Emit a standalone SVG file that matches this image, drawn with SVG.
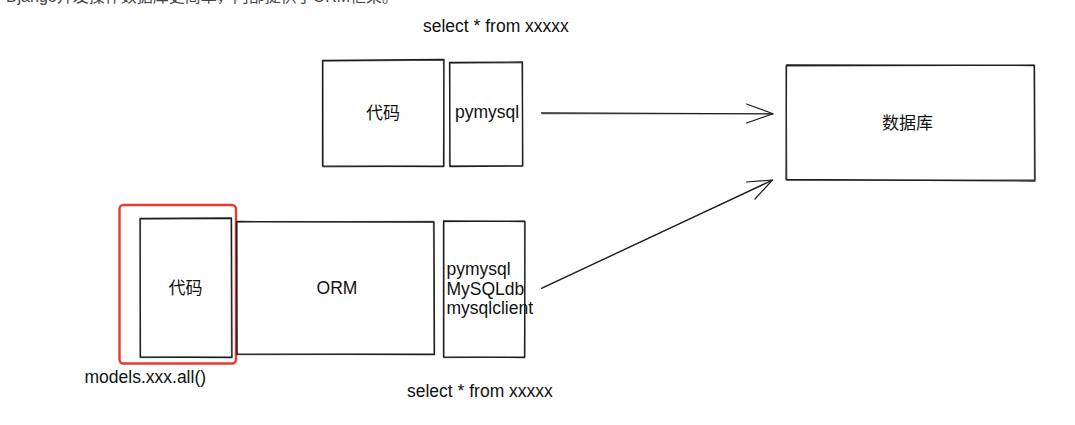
<svg xmlns="http://www.w3.org/2000/svg" width="1075" height="425" viewBox="0 0 1075 425">
  <style>
    .box { fill: none; stroke: #1e1e1e; stroke-width: 1.3; stroke-linejoin: round; stroke-linecap: round; }
    .edge { fill: none; stroke: #1e1e1e; stroke-width: 1.2; stroke-linecap: round; stroke-linejoin: round; }
    .lbl { font-family: "Liberation Sans", Arial, sans-serif; font-size: 17.5px; fill: #111; }
    .cjk { font-family: "Liberation Sans", "Noto Sans CJK SC", sans-serif; font-size: 17px; fill: #111; }
    .hdr { font-family: "Liberation Sans", "Noto Sans CJK SC", sans-serif; font-size: 16px; fill: #444; }
  </style>
  <rect x="0" y="0" width="1075" height="425" fill="#ffffff"/>

  <text class="hdr" x="6" y="2">Django开发操作数据库更简单，内部提供了ORM框架。</text>

  <text class="lbl" x="423" y="32">select * from xxxxx</text>

  <g id="code-top">
    <path class="box" d="M322.5 60.5 L444 59.5 L443.5 166.5 L322.5 166 Z"/>
    <path class="box" d="M323 61 L443.5 60.2 L444.2 166 L323.2 166.8 Z" stroke-opacity="0.6"/>
    <text class="cjk" x="383" y="118.5" text-anchor="middle">代码</text>
  </g>

  <g id="pymysql-top">
    <path class="box" d="M449.5 62.5 L522.5 62 L522.5 166 L450 166.5 Z"/>
    <path class="box" d="M450 63 L522 62.8 L523 165.5 L449.5 165.8 Z" stroke-opacity="0.6"/>
    <text class="lbl" x="455" y="118">pymysql</text>
  </g>

  <g id="database">
    <path class="box" d="M786.5 65 L1034.5 65.5 L1035 181 L786 179.5 Z"/>
    <path class="box" d="M786 66 L1034 65 L1034.5 180 L786.8 180.3 Z" stroke-opacity="0.6"/>
    <text class="cjk" x="907.5" y="128.5" text-anchor="middle">数据库</text>
  </g>

  <g id="code-bottom">
    <rect x="119.5" y="205" width="116.5" height="158.5" rx="4" ry="4" fill="none" stroke="#e63b2e" stroke-width="2.4"/>
    <path class="box" d="M140 218.5 L231.5 218 L232 357.5 L140.5 357 Z"/>
    <path class="box" d="M140.5 219 L231 218.6 L231.5 356.8 L140 357.5 Z" stroke-opacity="0.6"/>
    <text class="cjk" x="185.5" y="294" text-anchor="middle">代码</text>
  </g>

  <g id="orm">
    <path class="box" d="M236.5 221.5 L434 222 L434.5 354.5 L237 354 Z"/>
    <path class="box" d="M237 222 L433.5 221.5 L434 354 L236.8 354.6 Z" stroke-opacity="0.6"/>
    <text class="lbl" x="337" y="294" text-anchor="middle">ORM</text>
  </g>

  <g id="drivers">
    <path class="box" d="M443.5 221 L525 221.5 L524.5 357.5 L443.5 357 Z"/>
    <path class="box" d="M444 221.6 L524.5 221 L525 357 L444 357.6 Z" stroke-opacity="0.6"/>
    <text class="lbl" x="446.5" y="275">pymysql</text>
    <text class="lbl" x="446.5" y="294.5">MySQLdb</text>
    <text class="lbl" x="446.5" y="313.5">mysqlclient</text>
  </g>

  <text class="lbl" x="84.5" y="383">models.xxx.all()</text>
  <text class="lbl" x="407" y="397">select * from xxxxx</text>

  <g id="connectors">
    <path class="edge" d="M541.5 112.8 L773 113.8"/>
    <path class="edge" d="M542 113.6 L772 114" stroke-opacity="0.6"/>
    <path class="edge" d="M746.5 104 L773 113.8 L746.5 123"/>
    <path class="edge" d="M541.5 288.5 L772.5 180"/>
    <path class="edge" d="M542 287.8 L771.5 180.8" stroke-opacity="0.6"/>
    <path class="edge" d="M746.5 182 L772.5 180 L755 199"/>
  </g>
</svg>
